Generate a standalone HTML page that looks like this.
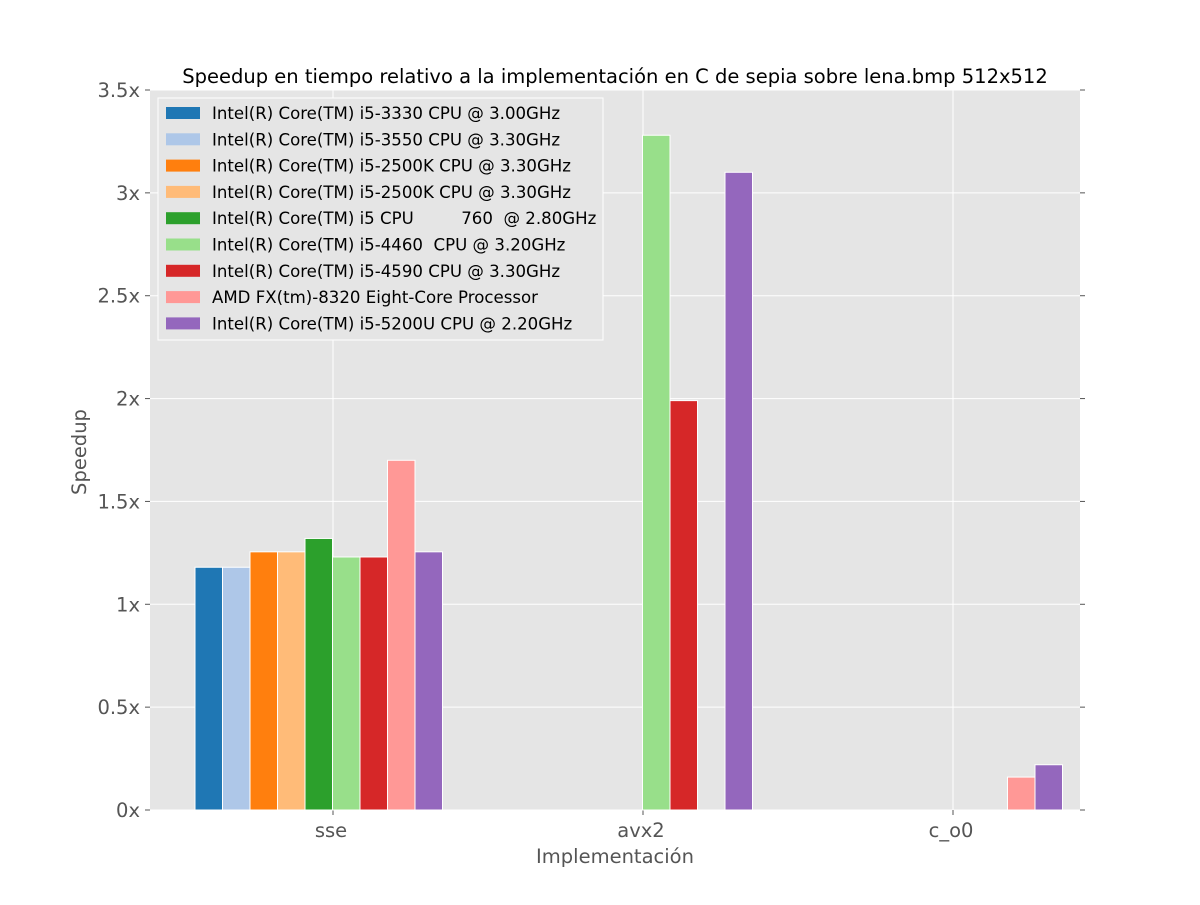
<!DOCTYPE html>
<html><head><meta charset="utf-8"><style>
body{margin:0;background:#fff;font-family:"Liberation Sans","DejaVu Sans",sans-serif}
</style></head><body>
<svg id="chart" width="1200" height="900" xmlns="http://www.w3.org/2000/svg" font-family="DejaVu Sans, Liberation Sans, sans-serif"></svg>
<script>
const categories=["sse","avx2","c_o0"];
const seriesNames=["Intel(R) Core(TM) i5-3330 CPU @ 3.00GHz","Intel(R) Core(TM) i5-3550 CPU @ 3.30GHz","Intel(R) Core(TM) i5-2500K CPU @ 3.30GHz","Intel(R) Core(TM) i5-2500K CPU @ 3.30GHz","Intel(R) Core(TM) i5 CPU         760  @ 2.80GHz","Intel(R) Core(TM) i5-4460  CPU @ 3.20GHz","Intel(R) Core(TM) i5-4590 CPU @ 3.30GHz","AMD FX(tm)-8320 Eight-Core Processor","Intel(R) Core(TM) i5-5200U CPU @ 2.20GHz"];
const sseValues=[1.18,1.18,1.255,1.255,1.32,1.23,1.23,1.70,1.255];
const avx2Values=[0,0,0,0,0,3.28,1.99,0,3.10];
const co0Values=[0,0,0,0,0,0,0,0.16,0.22];
const yTicks=[0,0.5,1,1.5,2,2.5,3,3.5];
const yTickLabels=["0x","0.5x","1x","1.5x","2x","2.5x","3x","3.5x"];
const colors=["#1f77b4","#aec7e8","#ff7f0e","#ffbb78","#2ca02c","#98df8a","#d62728","#ff9896","#9467bd"];
const values=[sseValues,avx2Values,co0Values];
const svg=document.getElementById('chart');const NS="http://www.w3.org/2000/svg";
function el(t,a,txt){const e=document.createElementNS(NS,t);for(const k in a)e.setAttribute(k,a[k]);if(txt!=null)e.textContent=txt;svg.appendChild(e);return e;}
const L=150,R=1080,T=90,B=810;
const y=v=>B-(v/3.5)*(B-T);
const xc=i=>333+i*310;
const bw=27.5;
let e=el('rect',{x:L,y:T,width:R-L,height:B-T,fill:'#e5e5e5'});

yTicks.forEach((t,i)=>{
 e=el('line',{x1:L,x2:R,y1:y(t),y2:y(t),stroke:'#fff','stroke-width':1});
 
 el('line',{x1:L-5,x2:L,y1:y(t),y2:y(t),stroke:'#555'});
 el('line',{x1:R,x2:R+5,y1:y(t),y2:y(t),stroke:'#555'});
 e=el('text',{x:L-10,y:y(t)+7,'text-anchor':'end','font-size':19.5,fill:'#555'},yTickLabels[i]);
 
});
categories.forEach((c,i)=>{
 e=el('line',{x1:xc(i),x2:xc(i),y1:T,y2:B,stroke:'#fff'});
 
 el('line',{x1:xc(i),x2:xc(i),y1:B,y2:B+5,stroke:'#555'});
 e=el('text',{x:xc(i)-2,y:B+27,'text-anchor':'middle','font-size':19.5,fill:'#555'},c);
 
 values[i].forEach((v,j)=>{
  if(v<=0)return;
  const x0=xc(i)-138+j*bw;
  e=el('rect',{x:x0,y:y(v),width:bw,height:B-y(v),fill:colors[j],stroke:'#fff','stroke-width':1});
  
 });
});
e=el('text',{x:615,y:83,'text-anchor':'middle','font-size':19.5,fill:'#000'},"Speedup en tiempo relativo a la implementación en C de sepia sobre lena.bmp 512x512");

e=el('text',{x:615,y:863,'text-anchor':'middle','font-size':19.5,fill:'#555'},"Implementación");

e=el('text',{x:86,y:452,'text-anchor':'middle','font-size':19.5,fill:'#555',transform:'rotate(-90 86 452)'},"Speedup");

e=el('rect',{x:158,y:98,width:445,height:242,fill:'#e5e5e5',stroke:'#fff'});

seriesNames.forEach((n,j)=>{
 const yy=113+j*26.3;
 e=el('rect',{x:166,y:yy-6,width:34,height:12,fill:colors[j]});
 
 e=el('text',{x:212,y:yy+6,'font-size':16.6,fill:'#000','xml:space':'preserve'},n);
 e.setAttribute('style','white-space:pre');
 
});
</script>
</body></html>
